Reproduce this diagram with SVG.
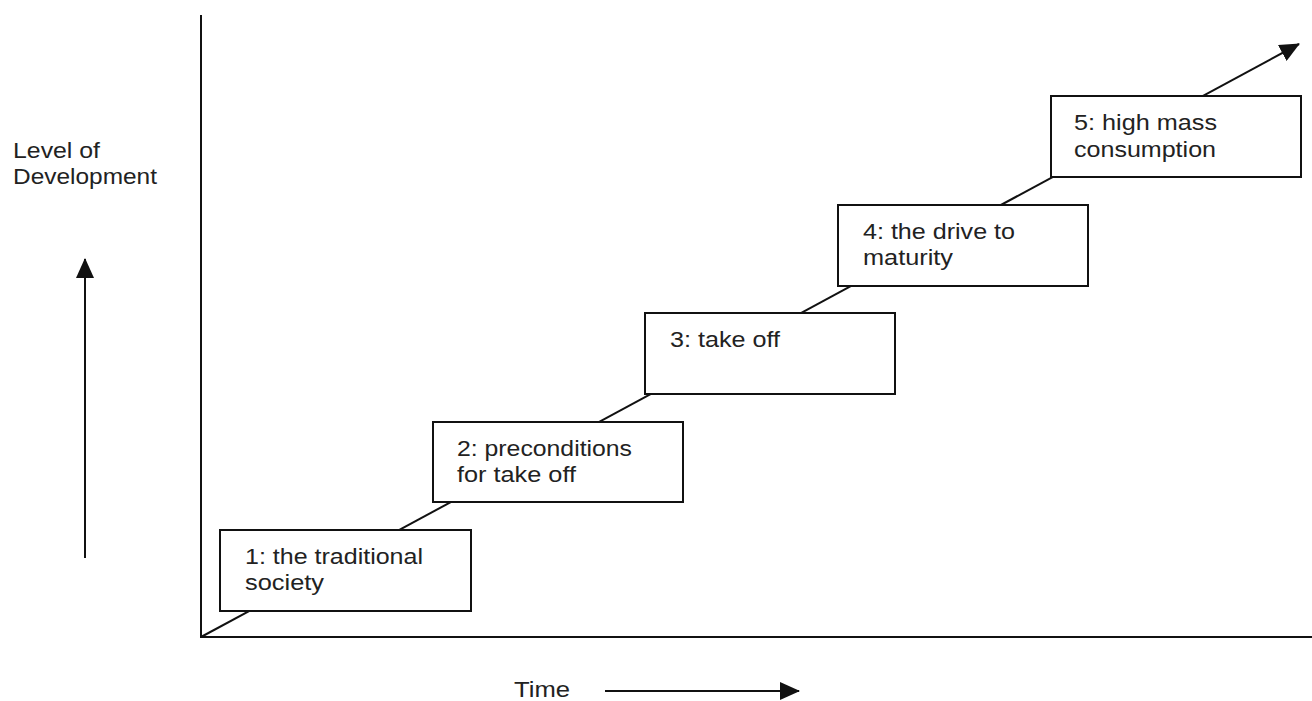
<svg xmlns="http://www.w3.org/2000/svg" width="1312" height="701" viewBox="0 0 1312 701">
<style>
.box{fill:#fff;stroke:#111;stroke-width:2}
.ln{stroke:#111;stroke-width:2;fill:none}
text{font-family:"Liberation Sans",Arial,sans-serif;font-size:22px;fill:#222}
</style>
<defs>
<marker id="ah" viewBox="0 0 20 18" refX="19" refY="9" markerWidth="20" markerHeight="18" markerUnits="userSpaceOnUse" orient="auto">
<path d="M0,0 L20,9 L0,18 z" fill="#111"/>
</marker>
</defs>
<rect width="1312" height="701" fill="#fff"/>
<g id="connectors">
<line class="ln" x1="201" y1="15" x2="201" y2="638"/>
<line class="ln" x1="200" y1="637" x2="1312" y2="637"/>
<line class="ln" x1="201" y1="637" x2="1299" y2="44" marker-end="url(#ah)"/>
<line class="ln" x1="85" y1="558" x2="85" y2="259" marker-end="url(#ah)"/>
<line class="ln" x1="605" y1="691" x2="799" y2="691" marker-end="url(#ah)"/>
</g>
<g id="axis-y-label"><text x="13" y="158" textLength="87" lengthAdjust="spacingAndGlyphs">Level of</text><text x="13" y="184" textLength="144" lengthAdjust="spacingAndGlyphs">Development</text></g>
<g id="axis-x-label"><text x="514" y="697" textLength="56" lengthAdjust="spacingAndGlyphs">Time</text></g>
<g id="stage1"><rect class="box" x="220" y="530" width="251" height="81"/><text x="245" y="564" textLength="178" lengthAdjust="spacingAndGlyphs">1: the traditional</text><text x="245" y="590" textLength="79" lengthAdjust="spacingAndGlyphs">society</text></g>
<g id="stage2"><rect class="box" x="433" y="422" width="250" height="80"/><text x="457" y="456" textLength="175" lengthAdjust="spacingAndGlyphs">2: preconditions</text><text x="457" y="482" textLength="119" lengthAdjust="spacingAndGlyphs">for take off</text></g>
<g id="stage3"><rect class="box" x="645" y="313" width="250" height="81"/><text x="670" y="347" textLength="110" lengthAdjust="spacingAndGlyphs">3: take off</text></g>
<g id="stage4"><rect class="box" x="838" y="205" width="250" height="81"/><text x="863" y="239" textLength="152" lengthAdjust="spacingAndGlyphs">4: the drive to</text><text x="863" y="265" textLength="90" lengthAdjust="spacingAndGlyphs">maturity</text></g>
<g id="stage5"><rect class="box" x="1051" y="96" width="250" height="81"/><text x="1074" y="130" textLength="143" lengthAdjust="spacingAndGlyphs">5: high mass</text><text x="1074" y="157" textLength="142" lengthAdjust="spacingAndGlyphs">consumption</text></g>
</svg>
